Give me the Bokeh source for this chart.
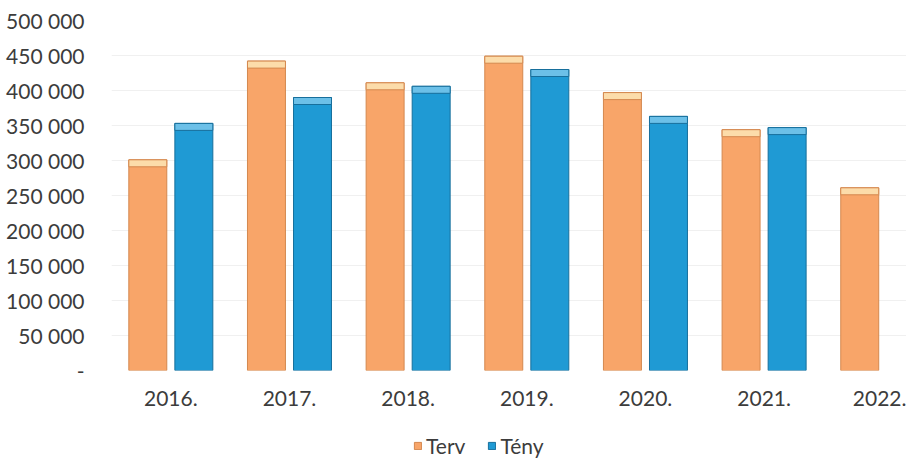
from bokeh.plotting import figure
from bokeh.layouts import column
from bokeh.models import ColumnDataSource, Range1d, FixedTicker, Legend, LegendItem
from bokeh.embed import file_html
from bokeh.resources import INLINE

years = ["2016.", "2017.", "2018.", "2019.", "2020.", "2021.", "2022."]
terv = [301000, 442000, 411000, 449000, 397000, 344000, 261000]
teny = [353000, 390000, 406000, 430000, 363000, 347000]
y_ticks = [0, 50000, 100000, 150000, 200000, 250000, 300000, 350000, 400000, 450000, 500000]
y_labels = ["-", "50 000", "100 000", "150 000", "200 000", "250 000", "300 000",
            "350 000", "400 000", "450 000", "500 000"]
series = ["Terv", "Tény"]

FONT = "Lato"
FS = "21px"
TXT = "#3c3c3c"
OFF = 0.194
BW = 0.32
CAP = 10000
W = 906
LEFT = 111
ORANGE, ORANGE_CAP, ORANGE_EDGE = "#f8a569", "#fcdcaa", "#d4884f"
BLUE, BLUE_CAP, BLUE_EDGE = "#1f9ad4", "#6cc0e8", "#176f9c"

terv_src = ColumnDataSource(dict(
    x=[i - OFF for i in range(len(terv))], top=terv,
    cap=[v - CAP for v in terv]))
teny_src = ColumnDataSource(dict(
    x=[i + OFF for i in range(len(teny))], top=teny,
    cap=[v - CAP for v in teny]))

p = figure(width=W, height=418, output_backend="svg", toolbar_location=None,
           x_range=Range1d(-0.5, 6.20), y_range=Range1d(0, 500000),
           min_border_left=LEFT, min_border_right=0, min_border_top=20,
           min_border_bottom=48)
p.outline_line_color = None
p.xgrid.grid_line_color = None
p.ygrid.grid_line_color = "#f0f0f0"
p.ygrid.ticker = FixedTicker(ticks=y_ticks)

p.vbar(x="x", top="top", bottom=0, width=BW, source=terv_src,
       fill_color=ORANGE, line_color=ORANGE_EDGE, line_width=1)
p.vbar(x="x", top="top", bottom="cap", width=BW, source=terv_src,
       fill_color=ORANGE_CAP, line_color=ORANGE_EDGE, line_width=1)
p.vbar(x="x", top="top", bottom=0, width=BW, source=teny_src,
       fill_color=BLUE, line_color=BLUE_EDGE, line_width=1)
p.vbar(x="x", top="top", bottom="cap", width=BW, source=teny_src,
       fill_color=BLUE_CAP, line_color=BLUE_EDGE, line_width=1)

p.yaxis.ticker = FixedTicker(ticks=y_ticks)
p.yaxis.major_label_overrides = {t: l for t, l in zip(y_ticks, y_labels)}
p.xaxis.ticker = FixedTicker(ticks=list(range(len(years))))
p.xaxis.major_label_overrides = {i: y for i, y in enumerate(years)}

for ax in (p.xaxis[0], p.yaxis[0]):
    ax.axis_line_color = None
    ax.major_tick_line_color = None
    ax.minor_tick_line_color = None
    ax.major_label_text_font = FONT
    ax.major_label_text_font_size = FS
    ax.major_label_text_color = TXT
p.yaxis.major_label_standoff = 21
p.xaxis.major_label_standoff = 14

# legend strip below the chart (its frame is aligned with the chart's frame)
lg = figure(width=W, height=40, output_backend="svg", toolbar_location=None,
            x_range=Range1d(0, 1), y_range=Range1d(0, 1), min_border=0)
lg.axis.visible = False
lg.grid.visible = False
lg.outline_line_color = None
swatch = ColumnDataSource(dict(x=[-1], top=[0]))  # off-screen, only for legend swatches
l1 = lg.vbar(x="x", top="top", width=0.1, source=swatch,
             fill_color=ORANGE, line_color=ORANGE_EDGE)
l2 = lg.vbar(x="x", top="top", width=0.1, source=swatch,
             fill_color=BLUE, line_color=BLUE_EDGE)
legend = Legend(items=[LegendItem(label=series[0], renderers=[l1]),
                       LegendItem(label=series[1], renderers=[l2])],
                orientation="horizontal", location=(302, 0),
                label_text_font=FONT, label_text_font_size=FS,
                label_text_color=TXT, glyph_width=9, glyph_height=9,
                label_standoff=4, spacing=22, padding=0, margin=0,
                border_line_color=None, background_fill_alpha=0)
lg.add_layout(legend, "center")

layout = column(p, lg, spacing=0)
open("out.html", "w").write(file_html(layout, INLINE))
